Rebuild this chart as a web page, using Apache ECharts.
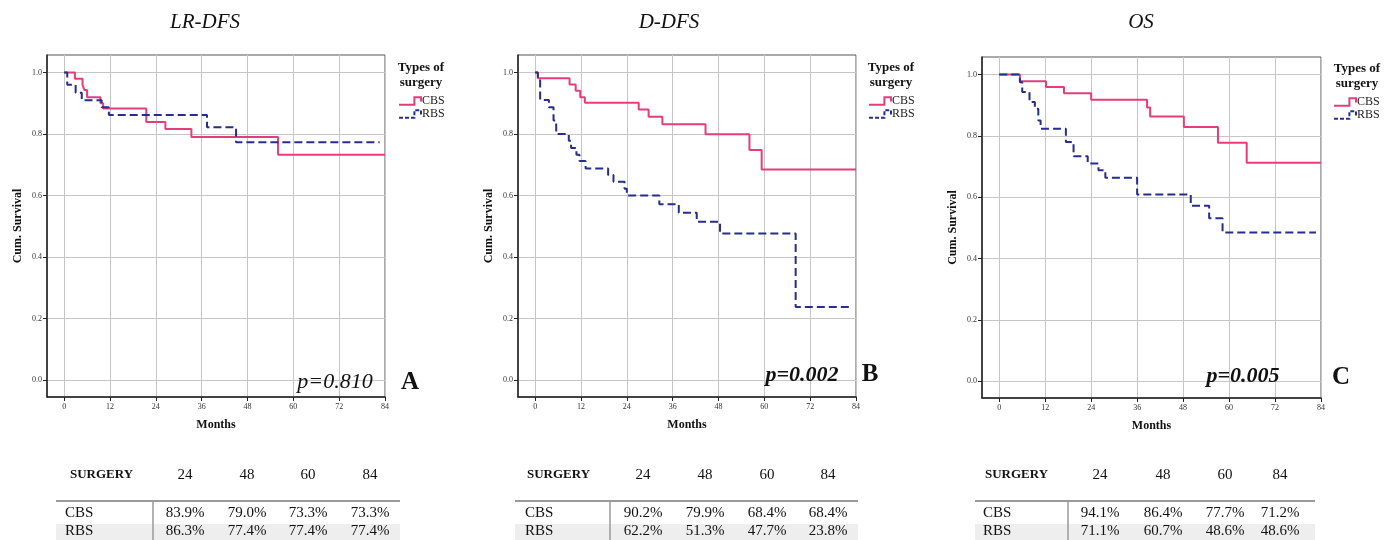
<!DOCTYPE html>
<html>
<head>
<meta charset="utf-8">
<script src="https://cdn.jsdelivr.net/npm/echarts@6/dist/echarts.min.js"></script>
<style>
  html, body { margin: 0; background: #fff; }
  #chart { width: 1396px; height: 540px; }
</style>
</head>
<body>
<div id="chart"></div>
<script>
// ---- data ----
const panelTitles = ["LR-DFS", "D-DFS", "OS"];
const pValues = ["p=0.810", "p=0.002", "p=0.005"];
const panelLetters = ["A", "B", "C"];
const groups = ["CBS", "RBS"];
const xTicks = [0, 12, 24, 36, 48, 60, 72, 84];
const yTicks = [0, 0.2, 0.4, 0.6, 0.8, 1.0];

// Kaplan-Meier steps: [month, survival from this month on]
const lrdfsCBS = [[0, 1], [2.8, 0.98], [4.8, 0.96], [5.3, 0.943], [6, 0.92], [9.5, 0.9], [10.2, 0.883],
  [21.5, 0.839], [26.5, 0.816], [33.3, 0.79], [56, 0.733], [84, 0.733]];
const lrdfsRBS = [[0, 1], [0.8, 0.96], [3, 0.934], [4.6, 0.91], [9.8, 0.887], [11.7, 0.862],
  [37.4, 0.822], [45, 0.773], [82.6, 0.773]];

const ddfsCBS = [[0, 1], [0.7, 0.981], [9, 0.961], [10.6, 0.941], [11.8, 0.92], [13, 0.902],
  [27.1, 0.88], [29.7, 0.856], [33.3, 0.832], [44.6, 0.799], [56.1, 0.748], [59.3, 0.685], [84, 0.685]];
const ddfsRBS = [[0, 1], [0.7, 0.978], [1.3, 0.911], [3.6, 0.887], [4.8, 0.844], [5.5, 0.8],
  [8.8, 0.778], [9.4, 0.755], [10.8, 0.733], [11.6, 0.712], [13.2, 0.688], [19.1, 0.667],
  [20.5, 0.645], [23.4, 0.622], [24, 0.6], [32.5, 0.572], [37.6, 0.544], [42.3, 0.515],
  [48.4, 0.477], [68.2, 0.238], [82.2, 0.238]];

const osCBS = [[0, 1], [5.4, 0.978], [12.2, 0.959], [16.9, 0.939], [24, 0.918], [38.6, 0.892],
  [39.4, 0.863], [48.2, 0.829], [57.1, 0.777], [64.6, 0.712], [84, 0.712]];
const osRBS = [[0, 1], [5.4, 0.975], [6, 0.943], [7.9, 0.91], [9.3, 0.888], [10.2, 0.85],
  [10.8, 0.823], [17.4, 0.78], [19.4, 0.733], [23.1, 0.71], [25.9, 0.688], [27.7, 0.663],
  [36, 0.609], [50, 0.572], [54.8, 0.531], [58.3, 0.485], [82.7, 0.485]];

const tableMonths = ["24", "48", "60", "84"];
const lrdfsTable = [["83.9%", "79.0%", "73.3%", "73.3%"], ["86.3%", "77.4%", "77.4%", "77.4%"]];
const ddfsTable = [["90.2%", "79.9%", "68.4%", "68.4%"], ["62.2%", "51.3%", "47.7%", "23.8%"]];
const osTable = [["94.1%", "86.4%", "77.7%", "71.2%"], ["71.1%", "60.7%", "48.6%", "48.6%"]];

const curves = [[lrdfsCBS, lrdfsRBS], [ddfsCBS, ddfsRBS], [osCBS, osRBS]];
const tables = [lrdfsTable, ddfsTable, osTable];

// ---- layout / style ----
const FONT = '"Liberation Serif", "DejaVu Serif", serif';
const PINK = "#e63d7a";
const NAVY = "#252e8c";
const colors = [PINK, NAVY];

const layout = [
  {
    grid: { left: 47, top: 55, width: 338, height: 342 },
    title: [205, 22], legendX: 398, legendTitle: [421, 60], legendTop: 95,
    p: [335, 382], pBold: false, letter: [410, 383],
    table: { surgX: 70, cols: [185, 247, 308, 370], rowX: 65, ruleX: [56, 400], sepX: 153 },
  },
  {
    grid: { left: 518, top: 55, width: 338, height: 342 },
    title: [669, 22], legendX: 868, legendTitle: [891, 60], legendTop: 95,
    p: [802, 375], pBold: true, letter: [870, 375],
    table: { surgX: 527, cols: [643, 705, 767, 828], rowX: 525, ruleX: [515, 858], sepX: 610 },
  },
  {
    grid: { left: 982, top: 57, width: 339, height: 341 },
    title: [1141, 22], legendX: 1333, legendTitle: [1357, 61], legendTop: 96,
    p: [1243, 376], pBold: true, letter: [1341, 378],
    table: { surgX: 985, cols: [1100, 1163, 1225, 1280], rowX: 983, ruleX: [975, 1315], sepX: 1068 },
  },
];

const stepIcon = "path://M0,8 L14,8 L14,1 L20,1 L20,5";

const grids = [];
const xAxes = [];
const yAxes = [];
const series = [];
const legends = [];
const graphics = [];

function addText(x, y, text, font, align, vAlign, extra) {
  graphics.push({
    type: "text",
    x,
    y,
    z: 100,
    style: Object.assign({ text, font, align, verticalAlign: vAlign, fill: "#111" }, extra || {}),
  });
}

layout.forEach((lay, i) => {
  grids.push({
    ...lay.grid,
    show: true,
    borderColor: "#555",
    borderWidth: 1,
    containLabel: false,
  });

  xAxes.push({
    type: "value",
    gridIndex: i,
    min: -4.5,
    max: 84,
    axisLine: { show: true, onZero: false, lineStyle: { color: "#222", width: 1.5 } },
    axisTick: { show: true, length: 4, customValues: xTicks, lineStyle: { color: "#222" } },
    axisLabel: { customValues: xTicks, fontFamily: FONT, fontSize: 8, color: "#333", margin: 6 },
    splitLine: { show: true, lineStyle: { color: "#c6c6c6", width: 1 } },
    name: "Months",
    nameLocation: "middle",
    nameGap: 22,
    nameTextStyle: { fontFamily: FONT, fontWeight: "bold", fontSize: 12, color: "#111" },
  });

  yAxes.push({
    type: "value",
    gridIndex: i,
    min: -0.055,
    max: 1.057,
    axisLine: { show: true, onZero: false, lineStyle: { color: "#222", width: 1.5 } },
    axisTick: { show: true, length: 4, customValues: yTicks, lineStyle: { color: "#222" } },
    axisLabel: {
      customValues: yTicks,
      formatter: (v) => v.toFixed(1),
      fontFamily: FONT,
      fontSize: 8,
      color: "#333",
      margin: 5,
    },
    splitLine: { show: true, lineStyle: { color: "#c6c6c6", width: 1 } },
    name: "Cum. Survival",
    nameLocation: "middle",
    nameRotate: 90,
    nameGap: 23,
    nameTextStyle: { fontFamily: FONT, fontWeight: "bold", fontSize: 12, color: "#111" },
  });

  groups.forEach((g, k) => {
    series.push({
      type: "line",
      name: g,
      xAxisIndex: i,
      yAxisIndex: i,
      data: curves[i][k],
      step: "end",
      symbol: "none",
      lineStyle: { color: colors[k], width: 2, type: k === 1 ? [8, 4] : "solid" },
      itemStyle: { color: colors[k] },
      z: k === 0 ? 3 : 4,
    });
  });

  legends.push({
    left: lay.legendX,
    top: lay.legendTop,
    orient: "vertical",
    padding: 0,
    itemGap: 1,
    itemWidth: 22,
    itemHeight: 8,
    selectedMode: false,
    textStyle: { fontFamily: FONT, fontSize: 12, color: "#222", padding: [0, 0, 0, -4] },
    data: groups.map((g, k) => ({
      name: g,
      icon: stepIcon,
      itemStyle: {
        color: "rgba(0,0,0,0)",
        borderColor: colors[k],
        borderWidth: 2,
        borderType: k === 1 ? [4, 2] : "solid",
      },
    })),
  });

  addText(lay.title[0], lay.title[1], panelTitles[i], `italic 21px ${FONT}`, "center", "middle");
  addText(lay.legendTitle[0], lay.legendTitle[1], "Types of\nsurgery", `bold 13px ${FONT}`, "center", "top", { lineHeight: 15 });
  addText(lay.p[0], lay.p[1], pValues[i], `italic ${lay.pBold ? "bold " : ""}22px ${FONT}`, "center", "middle");
  addText(lay.letter[0], lay.letter[1], panelLetters[i], `bold 25px ${FONT}`, "center", "middle");

  // table under the panel
  const t = lay.table;
  graphics.push({
    type: "rect",
    shape: { x: t.ruleX[0], y: 524, width: t.ruleX[1] - t.ruleX[0], height: 16 },
    style: { fill: "#eeeeee" },
  });
  graphics.push({
    type: "line",
    shape: { x1: t.ruleX[0], y1: 501, x2: t.ruleX[1], y2: 501 },
    style: { stroke: "#9a9a9a", lineWidth: 2 },
  });
  graphics.push({
    type: "line",
    shape: { x1: t.sepX, y1: 502, x2: t.sepX, y2: 540 },
    style: { stroke: "#9a9a9a", lineWidth: 1.5 },
  });
  addText(t.surgX, 475, "SURGERY", `bold 13px ${FONT}`, "left", "middle");
  tableMonths.forEach((m, c) => addText(t.cols[c], 475, m, `15px ${FONT}`, "center", "middle"));
  groups.forEach((g, r) => {
    const y = r === 0 ? 513 : 531;
    addText(t.rowX, y, g, `15px ${FONT}`, "left", "middle");
    tables[i][r].forEach((val, c) => addText(t.cols[c], y, val, `15px ${FONT}`, "center", "middle"));
  });
});

const chart = echarts.init(document.getElementById("chart"), null, { renderer: "canvas" });
chart.setOption({
  animation: false,
  backgroundColor: "#fff",
  grid: grids,
  xAxis: xAxes,
  yAxis: yAxes,
  legend: legends,
  series,
  graphic: graphics,
});
</script>
</body>
</html>
